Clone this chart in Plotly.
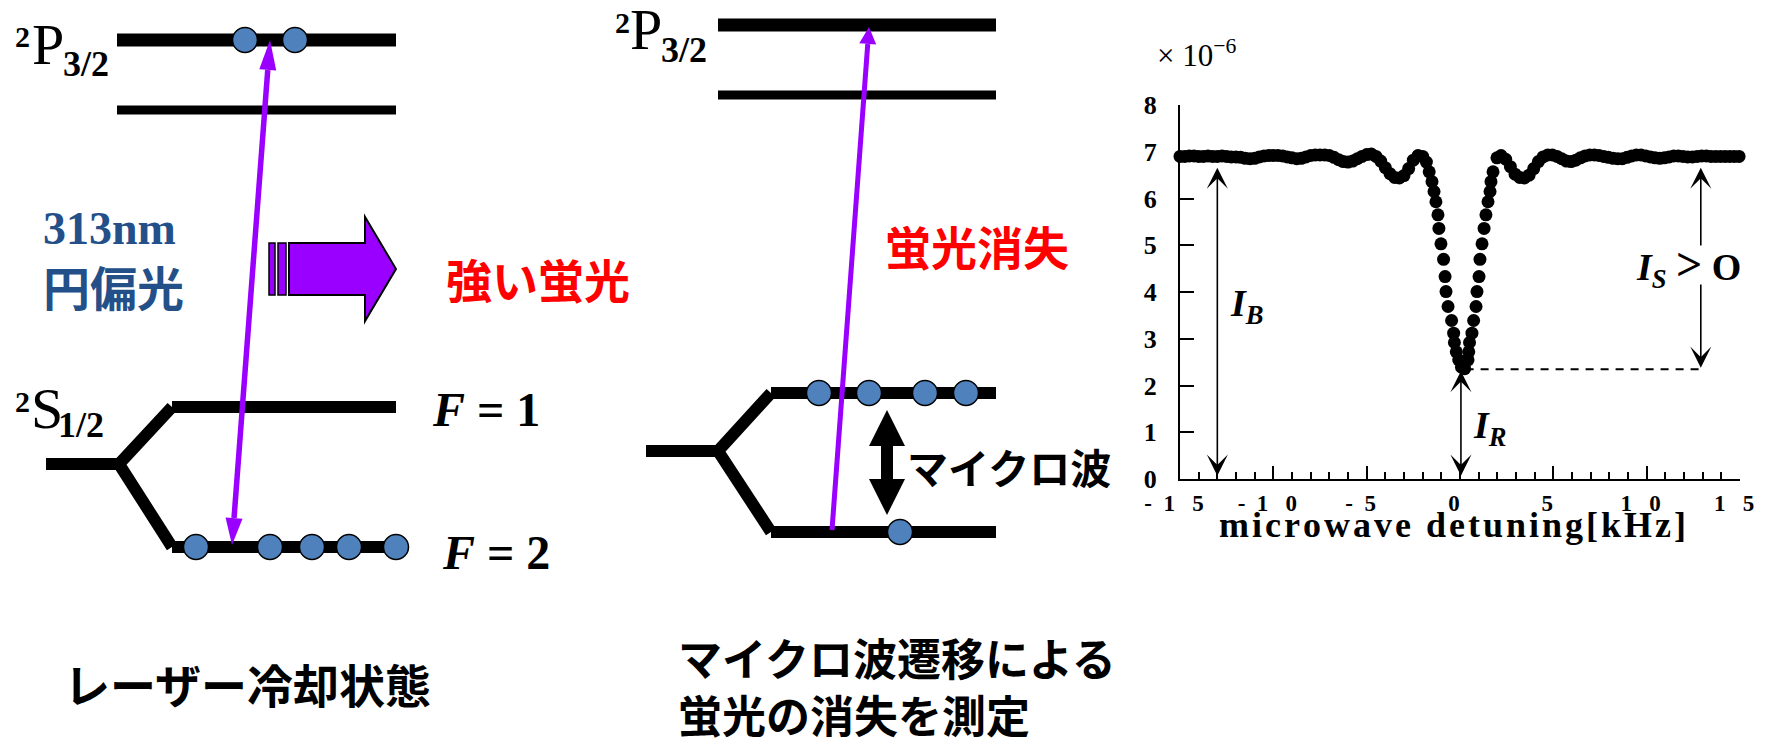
import math
import plotly.graph_objects as go

W, H = 1766, 739

# ---- measured fluorescence vs microwave detuning (signal in units of 1e-6) ----
left_wing_khz = [-15.00, -14.75, -14.50, -14.25, -14.00, -13.75, -13.50, -13.25, -13.00, -12.75,
                 -12.50, -12.25, -12.00, -11.75, -11.50, -11.25, -11.00, -10.75, -10.50, -10.25,
                 -10.00, -9.75, -9.50, -9.25, -9.00, -8.75, -8.50, -8.25, -8.00, -7.75,
                 -7.50, -7.25, -7.00, -6.75, -6.50, -6.25, -6.00, -5.75, -5.50, -5.25,
                 -5.00, -4.75, -4.50, -4.25, -4.00, -3.75, -3.50, -3.25, -3.00, -2.75,
                 -2.50, -2.25, -2.00, -1.80, -1.65]
left_wing_signal = [6.90, 6.90, 6.91, 6.91, 6.90, 6.90, 6.91, 6.90, 6.90, 6.91,
                    6.90, 6.89, 6.89, 6.88, 6.86, 6.85, 6.86, 6.89, 6.91, 6.92,
                    6.92, 6.92, 6.91, 6.89, 6.87, 6.85, 6.86, 6.89, 6.92, 6.93,
                    6.93, 6.93, 6.92, 6.88, 6.83, 6.79, 6.78, 6.80, 6.85, 6.90,
                    6.94, 6.95, 6.90, 6.80, 6.66, 6.53, 6.45, 6.44, 6.49, 6.64,
                    6.82, 6.92, 6.90, 6.78, 6.57]

dip_khz = [-1.50, -1.39, -1.29, -1.18, -1.13, -1.02, -0.88, -0.80, -0.75, -0.64,
           -0.45, -0.34, -0.30, -0.20, -0.07, 0.08, 0.25, 0.43, 0.47, 0.51,
           0.64, 0.73, 0.86, 0.91, 1.02, 1.07, 1.18, 1.29, 1.39, 1.50,
           1.61, 1.66, 1.77, 1.98]
dip_signal = [6.36, 6.15, 5.93, 5.65, 5.36, 5.03, 4.70, 4.33, 4.01, 3.69,
              3.39, 3.12, 2.92, 2.72, 2.55, 2.39, 2.36, 2.55, 2.72, 2.92,
              3.12, 3.39, 3.69, 4.01, 4.33, 4.70, 5.03, 5.36, 5.65, 5.93,
              6.15, 6.36, 6.57, 6.87]

right_wing_khz = [2.20, 2.45, 2.70, 2.95, 3.20, 3.45, 3.70, 3.95, 4.20, 4.45,
                  4.70, 4.95, 5.20, 5.45, 5.70, 5.95, 6.20, 6.45, 6.70, 6.95,
                  7.20, 7.45, 7.70, 7.95, 8.20, 8.45, 8.70, 8.95, 9.20, 9.45,
                  9.70, 9.95, 10.20, 10.45, 10.70, 10.95, 11.20, 11.45, 11.70, 11.95,
                  12.20, 12.45, 12.70, 12.95, 13.20, 13.45, 13.70, 13.95, 14.20, 14.45,
                  14.70, 14.95, 15.20]
right_wing_signal = [6.92, 6.84, 6.68, 6.52, 6.45, 6.44, 6.50, 6.64, 6.79, 6.89,
                     6.93, 6.93, 6.90, 6.85, 6.80, 6.79, 6.82, 6.87, 6.91, 6.93,
                     6.93, 6.92, 6.90, 6.88, 6.86, 6.85, 6.85, 6.88, 6.91, 6.93,
                     6.93, 6.91, 6.89, 6.87, 6.86, 6.87, 6.89, 6.91, 6.91, 6.90,
                     6.89, 6.89, 6.90, 6.91, 6.91, 6.90, 6.90, 6.90, 6.90, 6.90,
                     6.90, 6.90, 6.90]

background_level = 6.90   # I_B
residual_level = 2.35     # I_R

x_tick_vals = [-15, -10, -5, 0, 5, 10, 15]
NB = "\u00a0"
x_tick_text = ["-" + NB * 2 + "1" + NB * 3 + "5", "-" + NB * 2 + "1" + NB * 3 + "0", "-" + NB * 2 + "5",
               "0", "5", "1" + NB * 3 + "0", "1" + NB * 3 + "5"]
y_tick_vals = [0, 1, 2, 3, 4, 5, 6, 7, 8]

SERIF = "Liberation Serif, DejaVu Serif, serif"
JP = "Noto Sans CJK JP"
PURPLE = "#9900ff"
DOT_BLUE = "#4f81bd"
TEXT_BLUE = "#24508a"

fig = go.Figure()

# ---- signal trace ----
fig.add_trace(go.Scatter(
    x=left_wing_khz + dip_khz + right_wing_khz,
    y=left_wing_signal + dip_signal + right_wing_signal,
    mode="markers", marker=dict(size=13, color="black"),
    cliponaxis=False, showlegend=False, hoverinfo="skip",
    xaxis="x", yaxis="y"))

shapes = []
annotations = []


def seg(x0, y0, x1, y1, w, color="black", layer="below"):
    shapes.append(dict(type="line", xref="x2", yref="y2", x0=x0, y0=y0, x1=x1, y1=y1,
                       line=dict(color=color, width=w), layer=layer))


def path(d, w, color="black", fill=None, layer="below"):
    s = dict(type="path", xref="x2", yref="y2", path=d, line=dict(color=color, width=w), layer=layer)
    if fill:
        s["fillcolor"] = fill
    shapes.append(s)


def poly(pts, fill, lw=0, lc="black"):
    d = "M" + " L".join(f"{x:.2f},{y:.2f}" for x, y in pts) + " Z"
    shapes.append(dict(type="path", xref="x2", yref="y2", path=d, fillcolor=fill,
                       line=dict(color=lc, width=lw), layer="above"))


def head_pts(tip, tail, length, width):
    dx, dy = tip[0] - tail[0], tip[1] - tail[1]
    n = math.hypot(dx, dy)
    ux, uy = dx / n, dy / n
    bx, by = tip[0] - ux * length, tip[1] - uy * length
    px, py = -uy * width / 2, ux * width / 2
    return [tip, (bx + px, by + py), (bx - px, by - py)], (bx, by)


def light_arrow(tail, tip, w, head_len, head_w, tail_head=None):
    pts, base = head_pts(tip, tail, head_len, head_w)
    start = tail
    if tail_head:
        pts2, start = head_pts(tail, tip, tail_head[0], tail_head[1])
        poly(pts2, PURPLE)
    shapes.append(dict(type="line", xref="x2", yref="y2", x0=start[0], y0=start[1],
                       x1=base[0], y1=base[1], line=dict(color=PURPLE, width=w), layer="above"))
    poly(pts, PURPLE)


# ---- left diagram: laser cooled state ----
seg(117, 40, 396, 40, 13)
seg(117, 110, 396, 110, 9)
path("M46,464 L119,464 L172,407 M119,464 L172,547", 12)
seg(172, 407, 396, 407, 12)
seg(172, 547, 404, 547, 12)
light_arrow((232, 545), (270, 40), 5.5, 30, 17, tail_head=(27, 17))

# big block arrow
path("M289,243 L365,243 L365,217 L396,269 L365,321 L365,295 L289,295 Z", 2, fill=PURPLE, layer="above")
path("M269,243 L275,243 L275,295 L269,295 Z", 1.5, fill=PURPLE, layer="above")
path("M278,243 L286,243 L286,295 L278,295 Z", 1.5, fill=PURPLE, layer="above")

# ---- middle diagram: microwave transition ----
seg(718, 25, 996, 25, 13)
seg(718, 95, 996, 95, 9)
path("M646,451 L718,451 L771,393 M718,451 L771,532", 12)
seg(771, 393, 996, 393, 12)
seg(771, 532, 996, 532, 12)
light_arrow((832, 530), (869, 27), 5, 17, 17)

# black double arrow (microwave)
poly([(881, 444), (893, 444), (893, 481), (881, 481)], "black")
poly([(887, 410), (905, 446), (869, 446)], "black")
poly([(887, 515), (905, 479), (869, 479)], "black")

# ion populations
dots_x = [245, 295, 196, 270, 312, 349, 396, 819, 869, 925, 966, 900]
dots_y = [40, 40, 547, 547, 547, 547, 547, 393, 393, 393, 393, 532]
fig.add_trace(go.Scatter(x=dots_x, y=dots_y, mode="markers", xaxis="x2", yaxis="y2",
                         marker=dict(size=25, color=DOT_BLUE, line=dict(color="black", width=1.5)),
                         showlegend=False, hoverinfo="skip", cliponaxis=False))


def label(x, y, text, size, family=SERIF, color="black", weight="normal", xanchor="left", align="left"):
    annotations.append(dict(xref="x2", yref="y2", x=x, y=y, text=text, showarrow=False,
                            xanchor=xanchor, yanchor="middle", align=align,
                            font=dict(family=family, size=size, color=color, weight=weight)))


# term symbols
for (x2, y2, xp, yp, xs, ys, letter, sub) in [
        (13, 36, 30, 44, 61, 64, "P", "3/2"),
        (613, 22, 628, 29, 659, 50, "P", "3/2"),
        (13, 401, 29, 408, 56, 425, "S", "1/2")]:
    label(x2, y2, "2", 30, weight="bold")
    label(xp, yp, letter, 58)
    label(xs, ys, sub, 36, weight="bold")

label(430, 409, "<i>F</i> = 1", 48, weight="bold")
label(440, 552, "<i>F</i> = 2", 48, weight="bold")

label(41, 228, "313nm", 46, color=TEXT_BLUE, weight="bold")
label(41, 285, "円偏光", 47, family=JP, color=TEXT_BLUE, weight="bold")
label(538, 278, "強い蛍光", 46, family=JP, color="red", weight="bold", xanchor="center")
label(977, 245, "蛍光消失", 46, family=JP, color="red", weight="bold", xanchor="center")
label(905, 466, "マイクロ波", 41, family=JP, weight="bold")

label(62, 683, "レーザー冷却状態", 46, family=JP, weight="bold")
label(676, 685, "マイクロ波遷移による<br>蛍光の消失を測定", 44, family=JP, weight="bold")

# ---- chart labels ----
label(1155, 53, "× 10<sup>−6</sup>", 31)
label(1452, 525, "\u200a".join("microwave detuning[kHz]"), 36, weight="bold", xanchor="center")
label(1228, 306, "<i>I</i><sub><i>B</i></sub>", 38, weight="bold")
label(1471, 428, "<i>I</i><sub><i>R</i></sub>", 38, weight="bold")
label(1634, 266, "<i>I</i><sub><i>S</i></sub>" + NB + "<span style='font-size:46px'>&gt;</span>" + NB + "O",
      38, weight="bold")

# measurement arrows on the chart
arrow_style = dict(xref="x", yref="y", axref="x", ayref="y", text="", showarrow=True,
                   arrowcolor="black", arrowwidth=1.6, arrowsize=2.2)
annotations.append(dict(x=-13.0, y=6.66, ax=-13.0, ay=0.04, arrowhead=3, startarrowhead=3,
                        startarrowsize=2.2, arrowside="end+start", **arrow_style))
annotations.append(dict(x=0.05, y=residual_level - 0.04, ax=0.05, ay=0.04, arrowhead=3,
                        startarrowhead=3, startarrowsize=2.2, arrowside="end+start", **arrow_style))
annotations.append(dict(x=12.9, y=6.66, ax=12.9, ay=4.96, arrowhead=3, **arrow_style))
annotations.append(dict(x=12.9, y=residual_level + 0.03, ax=12.9, ay=4.19, arrowhead=3, **arrow_style))

shapes.append(dict(type="line", xref="x", yref="y", x0=0.3, x1=12.8, y0=residual_level, y1=residual_level,
                   line=dict(color="black", width=2, dash="8px,7px")))

fig.update_layout(
    template="none",
    width=W, height=H,
    margin=dict(l=0, r=0, t=0, b=0, pad=0, autoexpand=False),
    paper_bgcolor="white", plot_bgcolor="rgba(0,0,0,0)",
    showlegend=False,
    xaxis=dict(domain=[1180 / W, 1740 / W], range=[-15, 15], anchor="y", automargin=False,
               showline=True, linecolor="black", linewidth=2, showgrid=False, zeroline=False,
               ticks="inside", ticklen=13, tickwidth=2, tickcolor="black",
               tickvals=x_tick_vals, ticktext=x_tick_text,
               ticklabelshift=-6, ticklabelstandoff=2,
               tickfont=dict(family=SERIF, size=23, color="black", weight="bold"),
               minor=dict(dtick=1, ticks="inside", ticklen=7, tickwidth=1.6, tickcolor="black"),
               fixedrange=True),
    yaxis=dict(domain=[(H - 479) / H, (H - 105) / H], range=[0, 8], anchor="x", automargin=False,
               showline=True, linecolor="black", linewidth=2, showgrid=False, zeroline=False,
               ticks="inside", ticklen=14, tickwidth=2, tickcolor="black",
               tickvals=y_tick_vals, ticklabelstandoff=16,
               tickfont=dict(family=SERIF, size=26, color="black", weight="bold"),
               fixedrange=True),
    xaxis2=dict(domain=[0, 1], range=[0, W], anchor="y2", visible=False, fixedrange=True, automargin=False),
    yaxis2=dict(domain=[0, 1], range=[H, 0], anchor="x2", visible=False, fixedrange=True, automargin=False),
    shapes=shapes,
    annotations=annotations,
)

fig.write_html("out.html")
